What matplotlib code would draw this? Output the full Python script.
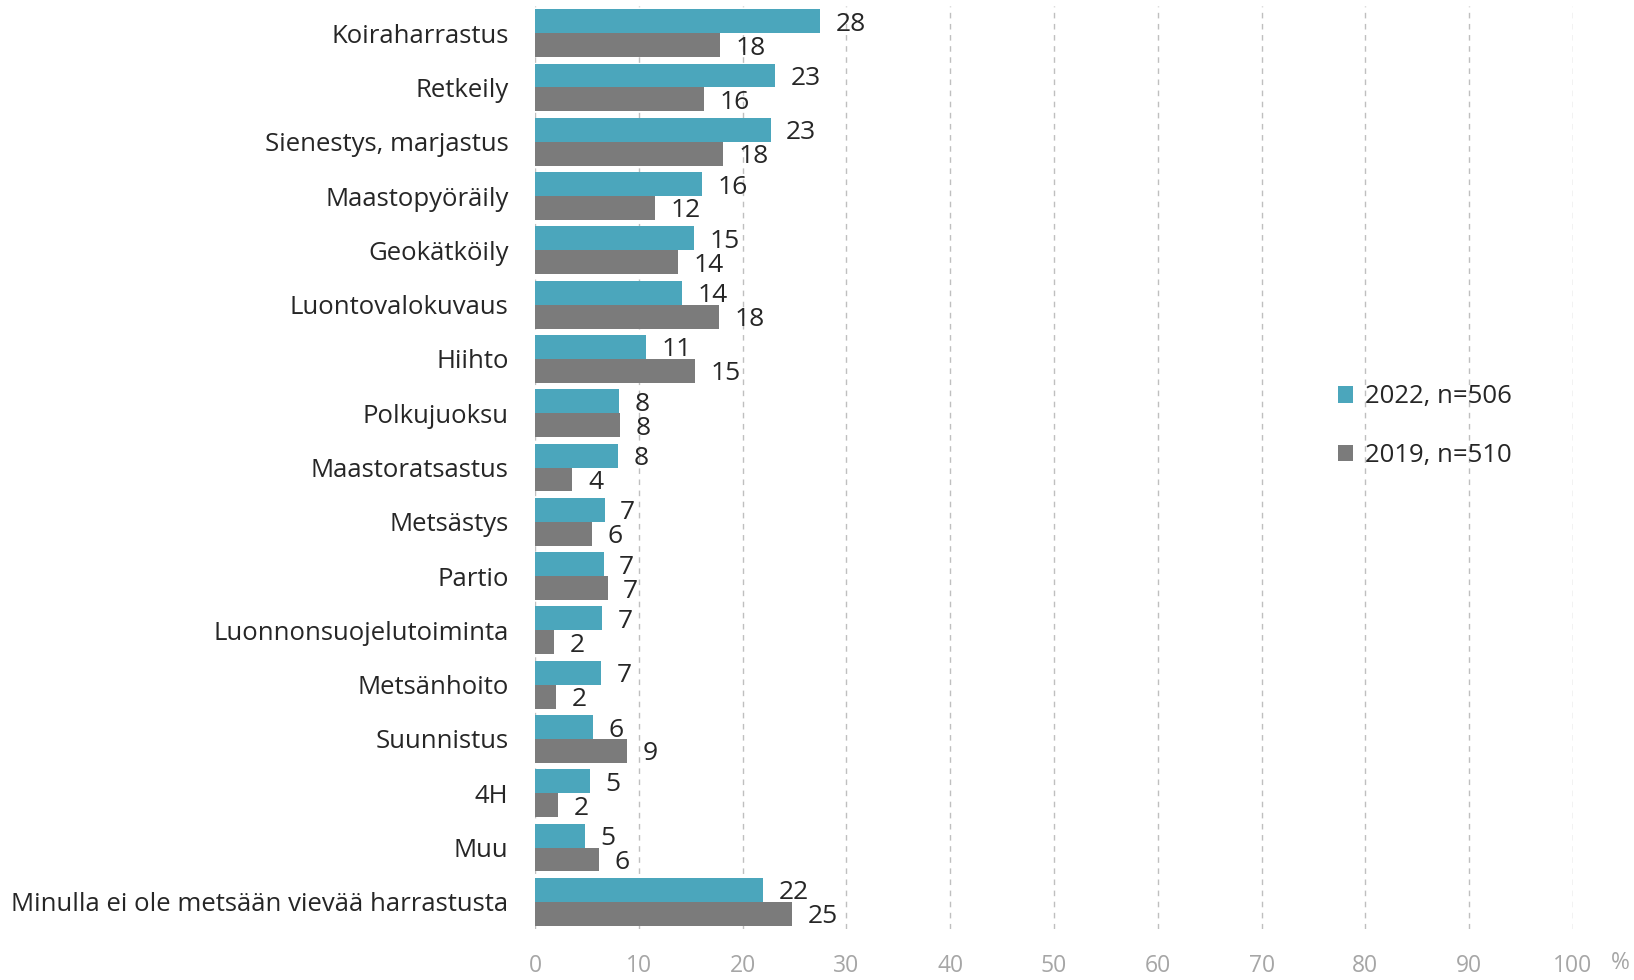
import numpy as np
import matplotlib
matplotlib.use("Agg")
import matplotlib.pyplot as plt

categories = ["Koiraharrastus", "Retkeily", "Sienestys, marjastus", "Maastopyöräily",
              "Geokätköily", "Luontovalokuvaus", "Hiihto", "Polkujuoksu",
              "Maastoratsastus", "Metsästys", "Partio", "Luonnonsuojelutoiminta",
              "Metsänhoito", "Suunnistus", "4H", "Muu",
              "Minulla ei ole metsään vievää harrastusta"]
val_2022 = [27.5, 23.1, 22.7, 16.1, 15.3, 14.2, 10.7, 8.1, 8.0, 6.7, 6.6, 6.5, 6.4, 5.6, 5.3, 4.8, 22.0]
val_2019 = [17.8, 16.3, 18.1, 11.6, 13.8, 17.7, 15.4, 8.2, 3.6, 5.5, 7.0, 1.8, 2.0, 8.9, 2.2, 6.2, 24.8]
lab_2022 = [28, 23, 23, 16, 15, 14, 11, 8, 8, 7, 7, 7, 7, 6, 5, 5, 22]
lab_2019 = [18, 16, 18, 12, 14, 18, 15, 8, 4, 6, 7, 2, 2, 9, 2, 6, 25]
series_names = ["2022, n=506", "2019, n=510"]
xticks = [0, 10, 20, 30, 40, 50, 60, 70, 80, 90, 100]

c22 = "#4BA6BC"
c19 = "#7B7B7B"

plt.rcParams['font.family'] = ['Open Sans', 'DejaVu Sans']

fig = plt.figure(figsize=(16.34, 9.8), dpi=100)
ax = fig.add_axes([535 / 1634, 1 - 929 / 980, (1573 - 535) / 1634, (929 - 6) / 980])

y = np.arange(len(categories))
h = 0.44
ax.barh(y - h / 2, val_2022, height=h, color=c22, label=series_names[0], zorder=3)
ax.barh(y + h / 2, val_2019, height=h, color=c19, label=series_names[1], zorder=3)

for i in range(len(categories)):
    ax.text(val_2022[i] + 1.5, y[i] - h / 2, str(lab_2022[i]), va="center_baseline", ha="left",
            fontsize=19, color="#262626", zorder=4)
    ax.text(val_2019[i] + 1.5, y[i] + h / 2, str(lab_2019[i]), va="center_baseline", ha="left",
            fontsize=19, color="#262626", zorder=4)

ax.set_ylim(len(categories) - 0.5, -0.5)
ax.set_xlim(0, 100)
ax.set_yticks(y)
ax.set_yticklabels(categories, fontsize=18.5, color="#262626")
ax.set_xticks(xticks)
ax.set_xticklabels([str(t) for t in xticks], fontsize=16.5, color="#A6A6A6")
ax.tick_params(axis="y", length=0, pad=19)
ax.tick_params(axis="x", length=0, pad=18)
for s in ax.spines.values():
    s.set_visible(False)
ax.grid(axis="x", linestyle=(0, (4, 4)), color="#BFBFBF", linewidth=1, zorder=0)
ax.grid(axis="y", visible=False)

fig.text(1620 / 1634, 1 - 963 / 980, "%", fontsize=16.5, color="#A6A6A6", ha="center", va="center")

leg = ax.legend(loc="upper left", bbox_to_anchor=(0.751, 0.615), frameon=False, fontsize=18.5,
                handlelength=0.6, handleheight=0.6, handletextpad=0.45, labelspacing=1.3)
for t in leg.get_texts():
    t.set_color("#262626")

fig.savefig("out.png", dpi=100)
